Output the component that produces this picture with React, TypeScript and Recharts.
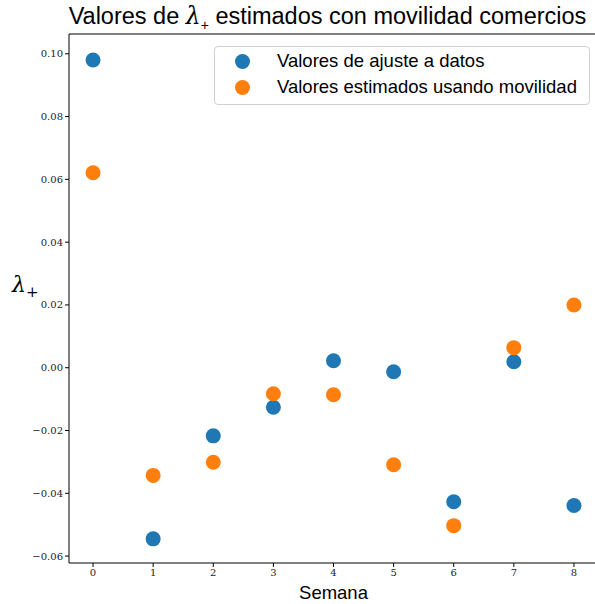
import type { CSSProperties } from 'react';
import { ScatterChart, Scatter, XAxis, YAxis, ReferenceLine } from 'recharts';

// ---------------------------------------------------------------------------
// Valores de lambda+ estimados con movilidad comercios
// ---------------------------------------------------------------------------

const weeks = [0, 1, 2, 3, 4, 5, 6, 7, 8];
const fitValues = [0.098, -0.0545, -0.0217, -0.0126, 0.0022, -0.0013, -0.0427, 0.0019, -0.0439];
const mobilityValues = [0.0621, -0.0343, -0.0301, -0.0083, -0.0086, -0.0309, -0.0503, 0.0064, 0.02];
const yTicks = [-0.06, -0.04, -0.02, 0.0, 0.02, 0.04, 0.06, 0.08, 0.1];
const seriesNames = ['Valores de ajuste a datos', 'Valores estimados usando movilidad'];

const BLUE = '#1f77b4';
const ORANGE = '#ff7f0e';
const SERIF = '"DejaVu Serif", "Liberation Serif", serif';
const SANS = '"Liberation Sans", Arial, sans-serif';

const fitData = weeks.map((w, i) => ({ semana: w, lambda: fitValues[i] }));
const mobilityData = weeks.map((w, i) => ({ semana: w, lambda: mobilityValues[i] }));

const X_DOMAIN: [number, number] = [-0.4, 8.4];
const Y_DOMAIN: [number, number] = [-0.0622, 0.1063];

const page: CSSProperties = {
  position: 'absolute',
  left: 0,
  top: 0,
  width: 595,
  height: 604,
  overflow: 'hidden',
  background: '#fff',
};

const title: CSSProperties = {
  position: 'absolute',
  left: 0,
  width: 655,
  top: 2,
  textAlign: 'center',
  fontFamily: SANS,
  fontSize: 23.5,
  color: '#000',
  whiteSpace: 'nowrap',
};

const fmtTick = (v: number) => (v < 0 ? '\u2212' : '') + Math.abs(v).toFixed(2);

const dot = (color: string) => (props: any) => (
  <circle cx={props.cx} cy={props.cy} r={7.5} fill={color} />
);

function LegendBox() {
  const row: CSSProperties = { display: 'flex', alignItems: 'center', height: 26 };
  const mark = (c: string): CSSProperties => ({
    width: 15,
    height: 15,
    borderRadius: '50%',
    background: c,
    marginLeft: 20,
    marginRight: 27,
    flex: 'none',
  });
  return (
    <div
      style={{
        position: 'absolute',
        left: 214,
        top: 46,
        width: 374,
        height: 56,
        boxSizing: 'content-box',
        border: '1px solid #d0d0d0',
        borderRadius: 4,
        padding: '1px 0 0 0',
        fontFamily: SANS,
        fontSize: 18.5,
        color: '#000',
        background: 'rgba(255,255,255,0.8)',
        whiteSpace: 'nowrap',
      }}
    >
      <div style={row}>
        <span style={mark(BLUE)} />
        {seriesNames[0]}
      </div>
      <div style={row}>
        <span style={mark(ORANGE)} />
        {seriesNames[1]}
      </div>
    </div>
  );
}

export default function App() {
  return (
    <div style={page}>
      <ScatterChart
        width={600}
        height={604}
        margin={{ top: 34, right: 2, bottom: 0, left: 0 }}
        style={{ position: 'absolute', left: 0, top: 0 }}
      >
        <XAxis
          type="number"
          dataKey="semana"
          domain={X_DOMAIN}
          ticks={weeks}
          allowDataOverflow
          height={41}
          stroke="#000"
          tickSize={4}
          tick={{ fontSize: 10, fill: '#222', fontFamily: SERIF }}
          label={{
            value: 'Semana',
            position: 'insideBottom',
            offset: 5,
            style: { fontSize: 18.5, fill: '#000', fontFamily: SANS },
          }}
        />
        <YAxis
          type="number"
          dataKey="lambda"
          domain={Y_DOMAIN}
          ticks={yTicks}
          allowDataOverflow
          width={69}
          stroke="#000"
          tickSize={4}
          tickFormatter={fmtTick}
          tick={{ fontSize: 10, fill: '#222', fontFamily: SERIF }}
          label={{
            content: () => (
              <text x={12} y={292} fontFamily={SERIF} fontStyle="italic" fontSize={22} fill="#000">
                λ
                <tspan fontStyle="normal" fontSize={15} dy={5}>+</tspan>
              </text>
            ),
          }}
        />
        <ReferenceLine y={Y_DOMAIN[1]} stroke="#000" />
        <Scatter
          name={seriesNames[0]}
          data={fitData}
          fill={BLUE}
          shape={dot(BLUE)}
          isAnimationActive={false}
        />
        <Scatter
          name={seriesNames[1]}
          data={mobilityData}
          fill={ORANGE}
          shape={dot(ORANGE)}
          isAnimationActive={false}
        />
      </ScatterChart>
      <LegendBox />
      <div style={title}>
        Valores de{' '}
        <span style={{ fontFamily: SERIF, fontStyle: 'italic' }}>λ</span>
        <sub style={{ fontSize: 14 }}>+</sub> estimados con movilidad comercios
      </div>
    </div>
  );
}
